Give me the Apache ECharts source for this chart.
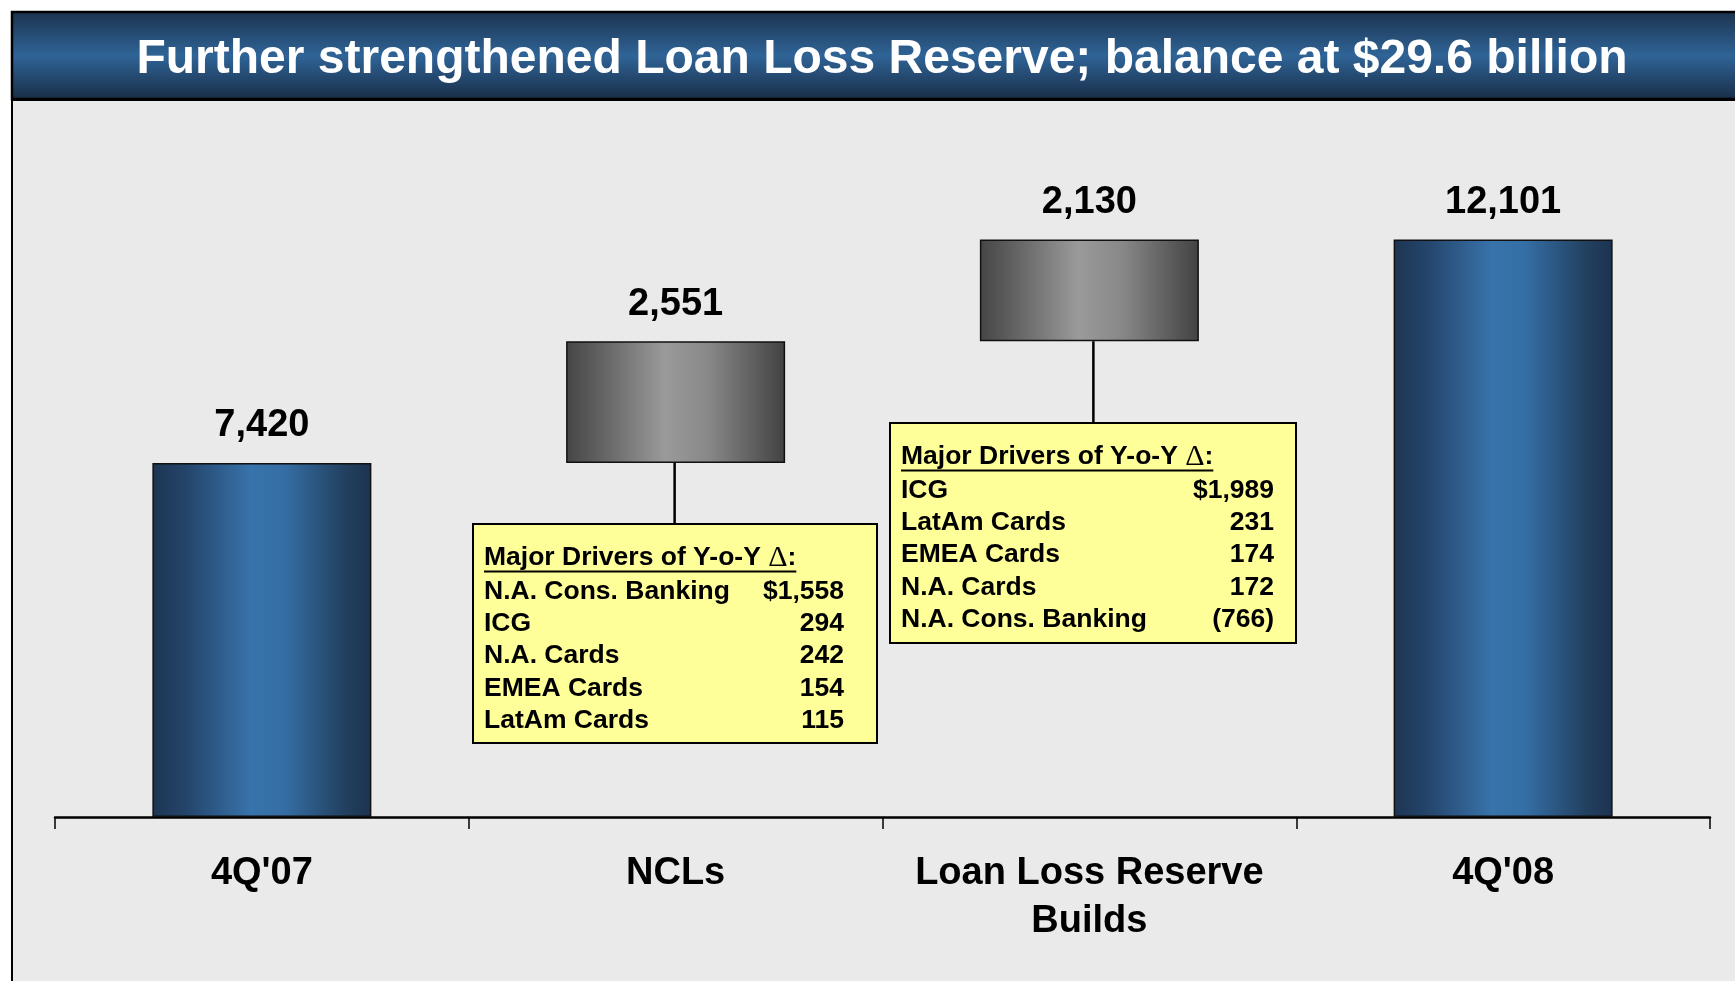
<!DOCTYPE html>
<html>
<head>
<meta charset="utf-8">
<script src="https://cdn.jsdelivr.net/npm/echarts@6/dist/echarts.min.js"></script>
<style>
  html, body { margin: 0; padding: 0; background: #fff; }
  #main { width: 1735px; height: 981px; }
</style>
</head>
<body>
<div id="main"></div>
<script>
// chart data
const categories = ["4Q'07", "NCLs", "Loan Loss Reserve\nBuilds", "4Q'08"];
const baseValues = [0, 7420, 9971, 0];
const barValues = [7420, 2551, 2130, 12101];
const barKinds = ["total", "change", "change", "total"];

// driver boxes
const nclDrivers = ["N.A. Cons. Banking", "ICG", "N.A. Cards", "EMEA Cards", "LatAm Cards"];
const nclAmounts = [1558, 294, 242, 154, 115];
const llrDrivers = ["ICG", "LatAm Cards", "EMEA Cards", "N.A. Cards", "N.A. Cons. Banking"];
const llrAmounts = [1989, 231, 174, 172, -766];

const titleText = "Further strengthened Loan Loss Reserve; balance at $29.6 billion";
const boxHeader = "Major Drivers of Y-o-Y ";

const FONT = '"Liberation Sans", Arial, Helvetica, sans-serif';
const SERIF = '"Liberation Serif", "Times New Roman", serif';

function fmt(v) {
  return v.toLocaleString("en-US");
}
function fmtAmount(v, i) {
  if (v < 0) return "(" + fmt(-v) + ")";
  return (i === 0 ? "$" : "") + fmt(v);
}

const blueFill = new echarts.graphic.LinearGradient(0, 0, 1, 0, [
  { offset: 0, color: "#1d3552" },
  { offset: 0.15, color: "#24446a" },
  { offset: 0.45, color: "#3873ab" },
  { offset: 0.6, color: "#356ea5" },
  { offset: 0.88, color: "#22405f" },
  { offset: 1, color: "#1c3350" }
]);
const greyFill = new echarts.graphic.LinearGradient(0, 0, 1, 0, [
  { offset: 0, color: "#454545" },
  { offset: 0.2, color: "#6a6a6a" },
  { offset: 0.45, color: "#9a9a9a" },
  { offset: 0.65, color: "#888888" },
  { offset: 1, color: "#424242" }
]);
const titleFill = new echarts.graphic.LinearGradient(0, 0, 0, 1, [
  { offset: 0, color: "#1b314c" },
  { offset: 0.5, color: "#2f6497" },
  { offset: 1, color: "#182c45" }
]);

let myChart = echarts.init(document.getElementById("main"));

myChart.setOption({
  animation: false,
  backgroundColor: "#eaeaea",
  grid: {
    left: 55,
    right: 25,
    top: 149,
    bottom: 164
  },
  xAxis: {
    type: "category",
    data: categories,
    axisLine: {
      lineStyle: { color: "#000", width: 2.5 }
    },
    axisTick: {
      show: true,
      length: 12,
      lineStyle: { color: "#000", width: 1.5 }
    },
    axisLabel: {
      color: "#000",
      fontFamily: FONT,
      fontWeight: "bold",
      fontSize: 38,
      lineHeight: 48,
      margin: 33,
      interval: 0
    }
  },
  yAxis: {
    type: "value",
    min: 0,
    max: 14000,
    show: false,
    splitLine: { show: false }
  },
  series: [
    {
      name: "base",
      type: "bar",
      stack: "total",
      barWidth: 219,
      silent: true,
      itemStyle: { color: "transparent" },
      data: baseValues
    },
    {
      name: "value",
      type: "bar",
      stack: "total",
      barWidth: 219,
      data: barValues.map(function (v, i) {
        return {
          value: v,
          itemStyle: {
            color: barKinds[i] === "total" ? blueFill : greyFill,
            borderColor: "#111",
            borderWidth: 1.5
          }
        };
      }),
      label: {
        show: true,
        position: "top",
        distance: 18,
        color: "#000",
        fontFamily: FONT,
        fontWeight: "bold",
        fontSize: 38,
        formatter: function (p) { return fmt(p.value); }
      }
    }
  ]
});

// frame, title bar and driver boxes
let ctx = document.createElement("canvas").getContext("2d");
ctx.font = "bold 26.5px " + FONT;
let headerW = ctx.measureText(boxHeader).width + ctx.measureText(":").width;
ctx.font = "30px " + SERIF;
headerW += ctx.measureText("\u0394").width;

let elements = [
  { type: "rect", shape: { x: 0, y: 0, width: 1735, height: 11 }, style: { fill: "#fff" } },
  { type: "rect", shape: { x: 0, y: 0, width: 11, height: 981 }, style: { fill: "#fff" } },
  { type: "line", shape: { x1: 12, y1: 99, x2: 12, y2: 981 }, style: { stroke: "#000", lineWidth: 2 } },
  {
    type: "rect",
    shape: { x: 12, y: 12, width: 1730, height: 87 },
    style: { fill: titleFill, stroke: "#000", lineWidth: 2.5 }
  },
  { type: "line", shape: { x1: 12, y1: 99.5, x2: 1735, y2: 99.5 }, style: { stroke: "#000", lineWidth: 3 } },
  {
    type: "text",
    x: 882,
    y: 60,
    style: {
      text: titleText,
      fill: "#fff",
      font: "bold 48px " + FONT,
      align: "center",
      verticalAlign: "middle"
    }
  }
];

const notes = [
  { cat: 1, dx: -1, top: 524, width: 404, height: 219, padR: 33, names: nclDrivers, amounts: nclAmounts },
  { cat: 2, dx: 4, top: 423, width: 406, height: 220, padR: 22, names: llrDrivers, amounts: llrAmounts }
];

notes.forEach(function (n) {
  let bottom = myChart.convertToPixel({ gridIndex: 0 }, [n.cat, baseValues[n.cat]]);
  let cx = bottom[0] + n.dx;
  let left = Math.round(cx - n.width / 2);

  elements.push({
    type: "line", z: 10,
    shape: { x1: cx, y1: bottom[1], x2: cx, y2: n.top },
    style: { stroke: "#000", lineWidth: 2.5 }
  });
  elements.push({
    type: "rect", z: 10,
    shape: { x: left, y: n.top, width: n.width, height: n.height },
    style: { fill: "#ffff99", stroke: "#000", lineWidth: 2 }
  });
  elements.push({
    type: "text", z: 11,
    x: left + 11,
    y: n.top + 34,
    style: {
      text: "{a|" + boxHeader + "}{d|\u0394}{a|:}",
      verticalAlign: "middle",
      rich: {
        a: { font: "bold 26.5px " + FONT, fill: "#000" },
        d: { font: "30px " + SERIF, fill: "#000" }
      }
    }
  });
  elements.push({
    type: "line", z: 11,
    shape: { x1: left + 11, y1: n.top + 47.5, x2: left + 11 + headerW, y2: n.top + 47.5 },
    style: { stroke: "#000", lineWidth: 2 }
  });
  n.names.forEach(function (name, i) {
    let y = n.top + 67.5 + i * 32.3;
    elements.push({
      type: "text", z: 11,
      x: left + 11, y: y,
      style: { text: name, font: "bold 26.5px " + FONT, fill: "#000", verticalAlign: "middle" }
    });
    elements.push({
      type: "text", z: 11,
      x: left + n.width - n.padR, y: y,
      style: {
        text: fmtAmount(n.amounts[i], i),
        font: "bold 26.5px " + FONT,
        fill: "#000",
        align: "right",
        verticalAlign: "middle"
      }
    });
  });
});

myChart.setOption({ graphic: { elements: elements } });
</script>
</body>
</html>
